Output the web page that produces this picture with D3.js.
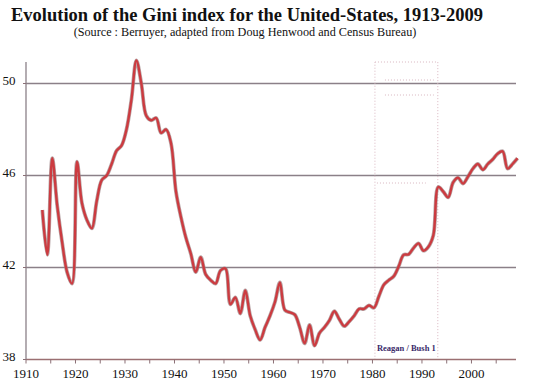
<!DOCTYPE html>
<html><head><meta charset="utf-8">
<script src="https://cdn.jsdelivr.net/npm/d3@7"></script>
<style>body{margin:0;background:#fff}svg{display:block}</style>
</head><body>
<svg id="c" width="538" height="386"></svg>
<script>
const years = d3.range(1913, 2010);
const gini = [
 44.5, 42.55, 46.75, 44.7, 43.1, 41.8, 41.3, 46.6, 44.8, 44.07,
 43.7, 44.9, 45.8, 46.0, 46.5, 47.08, 47.3, 48.0, 49.3, 51.0,
 50.0, 48.6, 48.4, 48.5, 47.85, 48.0, 47.4, 45.3, 44.2, 43.3,
 42.6, 41.8, 42.45, 41.7, 41.45, 41.3, 41.87, 41.95, 40.4, 40.7,
 40.0, 41.0, 39.9, 39.3, 38.85, 39.4, 39.9, 40.5, 41.35, 40.15,
 40.05, 39.95, 39.4, 38.7, 39.5, 38.6, 39.15, 39.4, 39.7, 40.1,
 39.75, 39.45, 39.65, 39.9, 40.2, 40.2, 40.35, 40.25, 40.75, 41.25,
 41.45, 41.62, 42.05, 42.55, 42.57, 42.85, 43.05, 42.73, 42.9, 43.4,
 45.5, 45.3, 45.05, 45.7, 45.9, 45.65, 45.95, 46.3, 46.5, 46.25,
 46.5, 46.7, 46.95, 47.05, 46.3, 46.5, 46.75
];
const xTicks = [1910, 1920, 1930, 1940, 1950, 1960, 1970, 1980, 1990, 2000];
const xMinorTicks = d3.range(1910, 2010, 5);
const yTicks = [38, 42, 46, 50];
const reaganSpan = [1980.5, 1993.2];
const reaganLabel = "Reagan / Bush 1";
const title = "Evolution of the Gini index for the United-States, 1913-2009";
const subtitle = "(Source : Berruyer, adapted from Doug Henwood and Census Bureau)";

const svg = d3.select("#c");
const x = d3.scaleLinear().domain([1910, 2009]).range([26, 516]);
const y = d3.scaleLinear().domain([38, 51]).range([359.5, 60.5]);
const serif = "'Liberation Serif','Times New Roman',serif";

svg.append("text").attr("x", 247).attr("y", 21).attr("text-anchor", "middle")
  .attr("font-family", serif).attr("font-weight", "bold").attr("font-size", 18.5)
  .attr("fill", "#111").text(title);
svg.append("text").attr("x", 245).attr("y", 36).attr("text-anchor", "middle")
  .attr("font-family", serif).attr("font-size", 12.2).attr("fill", "#111").text(subtitle);

// gridlines
svg.append("g").selectAll("line").data(yTicks.filter(d => d > 38)).join("line")
  .attr("x1", x(1910)).attr("x2", x(2009))
  .attr("y1", d => y(d)).attr("y2", d => y(d))
  .attr("stroke", "#8b8088").attr("stroke-width", 1.6);

// Reagan box (dotted)
const rb = svg.append("g").attr("fill", "none").attr("stroke", "#d9b6c0")
  .attr("stroke-width", 1).attr("stroke-dasharray", "1,2");
rb.append("rect").attr("x", x(reaganSpan[0])).attr("y", 62)
  .attr("width", x(reaganSpan[1]) - x(reaganSpan[0])).attr("height", y(38) - 62);
rb.append("line").attr("x1", x(reaganSpan[0]) + 10).attr("x2", x(reaganSpan[1]) - 4)
  .attr("y1", 80).attr("y2", 80);
rb.append("line").attr("x1", x(reaganSpan[0]) + 10).attr("x2", x(reaganSpan[1]) - 4)
  .attr("y1", 95).attr("y2", 95);
rb.append("line").attr("x1", x(reaganSpan[0]) + 2).attr("x2", x(reaganSpan[1]) - 12)
  .attr("y1", 183).attr("y2", 183);
svg.append("text").attr("x", (x(reaganSpan[0]) + x(reaganSpan[1])) / 2).attr("y", 350.5)
  .attr("text-anchor", "middle").attr("font-family", serif).attr("font-weight", "bold")
  .attr("font-size", 8.5).attr("fill", "#3a2a6a").text(reaganLabel);

// axes
const ax = svg.append("g");
ax.append("line").attr("x1", x(1910)).attr("x2", x(2009)).attr("y1", y(38)).attr("y2", y(38))
  .attr("stroke", "#9b6f72").attr("stroke-width", 1.3);
ax.append("line").attr("x1", x(1910)).attr("x2", x(1910)).attr("y1", y(38)).attr("y2", 62)
  .attr("stroke", "#8b8088").attr("stroke-width", 1.3);
ax.selectAll("line.xt").data(xMinorTicks).join("line").attr("class", "xt")
  .attr("x1", d => x(d)).attr("x2", d => x(d)).attr("y1", y(38)).attr("y2", y(38) + 4)
  .attr("stroke", "#8b7076").attr("stroke-width", 1);
ax.selectAll("line.yt").data(yTicks).join("line").attr("class", "yt")
  .attr("x1", x(1910) - 3).attr("x2", x(1910)).attr("y1", d => y(d)).attr("y2", d => y(d))
  .attr("stroke", "#8b7076").attr("stroke-width", 1);
ax.selectAll("text.xl").data(xTicks).join("text").attr("class", "xl")
  .attr("x", d => x(d)).attr("y", 378).attr("text-anchor", "middle")
  .attr("font-family", serif).attr("font-size", 13).attr("fill", "#111").text(d => d);
ax.selectAll("text.yl").data(yTicks).join("text").attr("class", "yl")
  .attr("x", 15.5).attr("y", d => y(d) + 1.5).attr("text-anchor", "end")
  .attr("font-family", serif).attr("font-size", 13).attr("fill", "#111").text(d => d);

// line
const data = years.map((yr, i) => ({ yr, v: gini[i] }));
const line = d3.line().x(d => x(d.yr + 0.3)).y(d => y(d.v)).curve(d3.curveCatmullRom.alpha(0.5));
svg.append("path").datum(data).attr("d", line).attr("fill", "none")
  .attr("stroke", "#9a7f80").attr("stroke-width", 3.8).attr("stroke-linejoin", "round").attr("opacity", 0.7);
svg.append("path").datum(data).attr("d", line).attr("fill", "none")
  .attr("stroke", "#cc3b40").attr("stroke-width", 2.4).attr("stroke-linejoin", "round");
</script>
</body></html>
